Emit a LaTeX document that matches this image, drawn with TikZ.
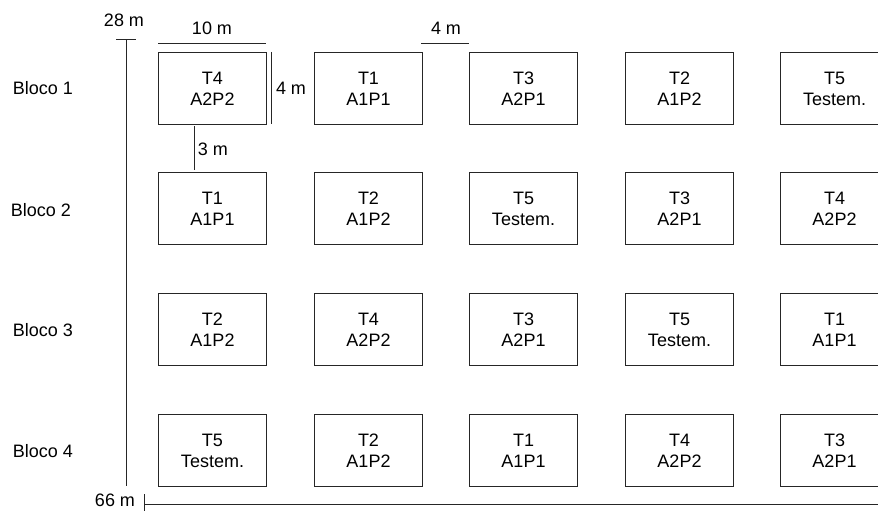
\documentclass[tikz,border=0pt]{standalone}
\usepackage{fontspec}
\setmainfont{Liberation Sans}
\begin{document}
\begin{tikzpicture}[x=1pt,y=-1pt,
  plot/.style={draw=black!85, line width=1pt, minimum width=108pt, minimum height=72pt, anchor=north west, inner sep=0pt, align=center, font=\fontsize{18}{21}\selectfont},
  lbl/.style={font=\fontsize{18}{21}\selectfont, inner sep=1pt},
  dim/.style={draw=black!85, line width=1pt}]
\useasboundingbox (0,0) rectangle (878,511);
\begin{scope}
\clip (0,0) rectangle (878,511);
% row 1
\node[plot] (p11) at (158,52) {T4\\A2P2};
\node[plot] (p12) at (314,52) {T1\\A1P1};
\node[plot] (p13) at (469,52) {T3\\A2P1};
\node[plot] (p14) at (625,52) {T2\\A1P2};
\node[plot] (p15) at (780,52) {T5\\Testem.};
% row 2
\node[plot] (p21) at (158,172) {T1\\A1P1};
\node[plot] (p22) at (314,172) {T2\\A1P2};
\node[plot] (p23) at (469,172) {T5\\Testem.};
\node[plot] (p24) at (625,172) {T3\\A2P1};
\node[plot] (p25) at (780,172) {T4\\A2P2};
% row 3
\node[plot] (p31) at (158,293) {T2\\A1P2};
\node[plot] (p32) at (314,293) {T4\\A2P2};
\node[plot] (p33) at (469,293) {T3\\A2P1};
\node[plot] (p34) at (625,293) {T5\\Testem.};
\node[plot] (p35) at (780,293) {T1\\A1P1};
% row 4
\node[plot] (p41) at (158,414) {T5\\Testem.};
\node[plot] (p42) at (314,414) {T2\\A1P2};
\node[plot] (p43) at (469,414) {T1\\A1P1};
\node[plot] (p44) at (625,414) {T4\\A2P2};
\node[plot] (p45) at (780,414) {T3\\A2P1};
% block labels
\node[lbl] (b1) at (43,88) {Bloco 1};
\node[lbl] (b2) at (41,210) {Bloco 2};
\node[lbl] (b3) at (43,330) {Bloco 3};
\node[lbl] (b4) at (43,451) {Bloco 4};
% axes
\coordinate (vtop) at (126,40);
\coordinate (vbot) at (126,486);
\draw[dim] (vtop) -- (vbot);
\draw[dim] (116,40) -- (136,40);
\node[lbl] (l28) at (124,20) {28 m};
\coordinate (hl) at (144,504.5);
\coordinate (hr) at (878,504.5);
\draw[dim] (hl) -- (hr);
\draw[dim] (144,494) -- (144,512);
\node[lbl] (l66) at (115,500.5) {66 m};
% dimension: 10 m
\coordinate (d10a) at (158,44);
\coordinate (d10b) at (266,44);
\draw[dim] (d10a) -- (d10b);
\node[lbl] (l10) at (212,28) {10 m};
% dimension: 4 m horizontal gap
\coordinate (d4a) at (421,44);
\coordinate (d4b) at (469,44);
\draw[dim] (d4a) -- (d4b);
\node[lbl] (l4h) at (446,28) {4 m};
% dimension: 4 m vertical
\coordinate (d4c) at (271.5,52);
\coordinate (d4d) at (271.5,124);
\draw[dim] (d4c) -- (d4d);
\node[lbl] (l4v) at (291,88) {4 m};
% dimension: 3 m
\coordinate (d3a) at (194,126);
\coordinate (d3b) at (194,170);
\draw[dim] (d3a) -- (d3b);
\node[lbl] (l3) at (213,149) {3 m};
\end{scope}
\end{tikzpicture}
\end{document}
